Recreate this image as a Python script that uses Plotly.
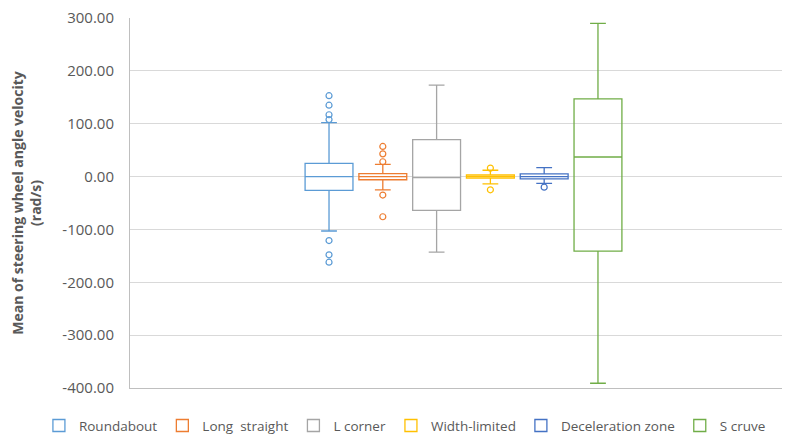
import plotly.graph_objects as go

names = ["Roundabout", "Long  straight", "L corner", "Width-limited", "Deceleration zone", "S cruve"]
colors = ["#5B9BD5", "#ED7D31", "#A5A5A5", "#FFC000", "#4472C4", "#70AD47"]

q1 = [-26.0, -6.0, -64.0, -3.0, -4.5, -141.0]
median = [0.0, 0.0, -2.0, 0.0, 0.0, 37.0]
q3 = [25.0, 5.5, 70.0, 3.0, 5.0, 147.0]
lowerfence = [-103.0, -25.0, -143.0, -14.0, -13.0, -391.0]
upperfence = [102.0, 23.0, 173.0, 12.0, 17.0, 290.0]
outliers = [
    [153.0, 135.0, 117.0, 108.0, -121.0, -148.0, -162.0],
    [57.0, 43.0, 28.0, -35.0, -76.0],
    [],
    [16.0, -25.0],
    [-20.0],
    [],
]

y_ticks = [300, 200, 100, 0, -100, -200, -300, -400]
y_tick_labels = ["300.00", "200.00", "100.00", "0.00", "-100.00", "-200.00", "-300.00", "-400.00"]

fig = go.Figure()
for i, n in enumerate(names):
    fig.add_trace(go.Box(
        x=[n], q1=[q1[i]], median=[median[i]], q3=[q3[i]],
        lowerfence=[lowerfence[i]], upperfence=[upperfence[i]],
        name=n, boxpoints=False,
        line=dict(color=colors[i], width=1.3),
        fillcolor="rgba(255,255,255,0)",
        width=0.89, whiskerwidth=0.33,
        showlegend=True,
    ))
    if outliers[i]:
        fig.add_trace(go.Scatter(
            x=[n] * len(outliers[i]), y=outliers[i], mode="markers",
            marker=dict(symbol="circle-open", size=6, color=colors[i], line=dict(width=1.2)),
            showlegend=False, hoverinfo="skip",
        ))

# page body has an 8px default margin; the figure is sized so it ends at the window edge
fig.update_layout(
    width=782, height=430,
    margin=dict(l=122, r=0, t=10, b=50, autoexpand=False),
    paper_bgcolor="white", plot_bgcolor="white",
    font=dict(family="Open Sans, sans-serif", color="#595959", size=14),
    showlegend=True,
    legend=dict(orientation="h", x=-0.138, xanchor="left", y=-0.06, yanchor="top",
                font=dict(size=13.5, color="#595959"), itemclick=False, tracegroupgap=0,
                itemwidth=30),
)
fig.update_xaxes(
    type="category", categoryorder="array", categoryarray=names,
    range=[-3.70, 8.57], showticklabels=False, showgrid=False,
    showline=True, linecolor="#bfbfbf", linewidth=1, ticks="", zeroline=False,
)
fig.update_yaxes(
    range=[-400, 300], tickvals=y_ticks, ticktext=y_tick_labels,
    showgrid=True, gridcolor="#d9d9d9", gridwidth=1,
    showline=True, linecolor="#bfbfbf", linewidth=1, zeroline=False,
    ticklabelstandoff=12, ticklabeloverflow="allow",
    tickfont=dict(size=15, color="#595959"),
    title=dict(text="<b>Mean of steering wheel angle velocity<br>(rad/s)</b>",
               font=dict(size=14, color="#595959"), standoff=18),
)

fig.write_html("out.html")
